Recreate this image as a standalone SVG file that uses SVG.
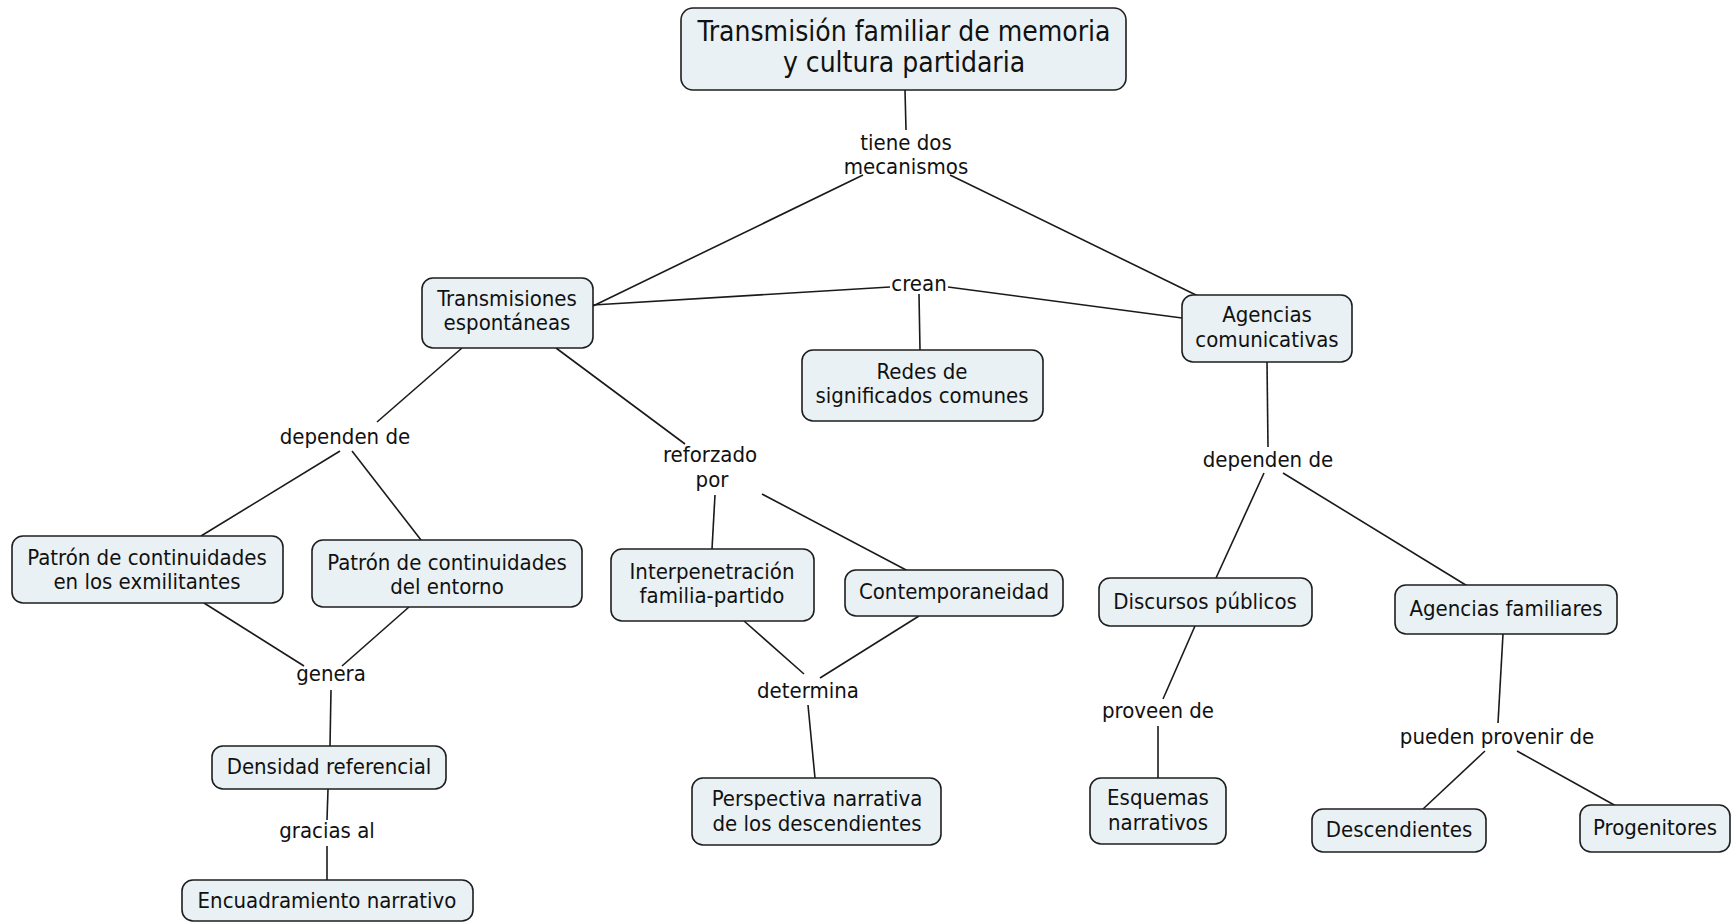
<svg xmlns="http://www.w3.org/2000/svg" width="1732" height="922" viewBox="0 0 1732 922">
  <style>
    .bg { fill: #ffffff; }
    .node rect { fill: #e9f1f4; stroke: #1e1e1e; stroke-width: 1.6; }
    .node text, .label text { font-family: "DejaVu Sans Condensed", "DejaVu Sans", sans-serif; font-stretch: condensed; font-size: 22px; fill: #111111; text-anchor: middle; }
    #title text { font-size: 28px; }
    .edges line { stroke: #1a1a1a; stroke-width: 1.6; fill: none; }
  </style>
  <rect class="bg" x="0" y="0" width="1732" height="922"/>

  <!-- connectors -->
  <g class="edges">
    <line x1="905" y1="90" x2="906" y2="130"/>
    <line x1="863" y1="175" x2="593" y2="306"/>
    <line x1="950" y1="175" x2="1198" y2="296"/>
    <line x1="593" y1="305" x2="890" y2="287"/>
    <line x1="948" y1="287" x2="1182" y2="318"/>
    <line x1="919" y1="294" x2="920" y2="350"/>
    <line x1="1267" y1="362" x2="1268" y2="447"/>
    <line x1="1264" y1="473" x2="1216" y2="578"/>
    <line x1="1283" y1="473" x2="1469" y2="587"/>
    <line x1="1195" y1="626" x2="1163" y2="699"/>
    <line x1="1158" y1="726" x2="1158" y2="778"/>
    <line x1="1503" y1="634" x2="1498" y2="723"/>
    <line x1="1485" y1="751" x2="1423" y2="809"/>
    <line x1="1517" y1="751" x2="1616" y2="806"/>
    <line x1="462" y1="348" x2="377" y2="422"/>
    <line x1="340" y1="451" x2="201" y2="536"/>
    <line x1="352" y1="451" x2="421" y2="540"/>
    <line x1="204" y1="603" x2="304" y2="666"/>
    <line x1="409" y1="607" x2="342" y2="666"/>
    <line x1="331" y1="690" x2="330" y2="746"/>
    <line x1="328" y1="789" x2="327" y2="820"/>
    <line x1="327" y1="846" x2="327" y2="880"/>
    <line x1="556" y1="348" x2="685" y2="444"/>
    <line x1="715" y1="495" x2="712" y2="549"/>
    <line x1="762" y1="494" x2="908" y2="571"/>
    <line x1="744" y1="621" x2="804" y2="674"/>
    <line x1="919" y1="616" x2="820" y2="678"/>
    <line x1="808" y1="705" x2="815" y2="778"/>
  </g>

  <!-- linking phrases -->
  <g class="label" id="lbl-tiene"><text x="906" y="150">tiene dos</text><text x="906" y="174">mecanismos</text></g>
  <g class="label" id="lbl-crean"><text x="919" y="291">crean</text></g>
  <g class="label" id="lbl-dependen-ag"><text x="1268" y="467">dependen de</text></g>
  <g class="label" id="lbl-proveen"><text x="1158" y="718">proveen de</text></g>
  <g class="label" id="lbl-pueden"><text x="1497" y="744">pueden provenir de</text></g>
  <g class="label" id="lbl-dependen-tr"><text x="345" y="444">dependen de</text></g>
  <g class="label" id="lbl-genera"><text x="331" y="681">genera</text></g>
  <g class="label" id="lbl-gracias"><text x="327" y="838">gracias al</text></g>
  <g class="label" id="lbl-reforzado"><text x="710" y="462">reforzado</text><text x="712" y="487">por</text></g>
  <g class="label" id="lbl-determina"><text x="808" y="698">determina</text></g>

  <!-- concepts -->
  <g class="node" id="title">
    <rect x="681" y="8" width="445" height="82" rx="12"/>
    <text x="904" y="41">Transmisión familiar de memoria</text>
    <text x="904" y="72">y cultura partidaria</text>
  </g>
  <g class="node" id="transmisiones">
    <rect x="422" y="278" width="171" height="70" rx="11"/>
    <text x="507" y="306">Transmisiones</text>
    <text x="507" y="330">espontáneas</text>
  </g>
  <g class="node" id="redes">
    <rect x="802" y="350" width="241" height="71" rx="11"/>
    <text x="922" y="379">Redes de</text>
    <text x="922" y="403">significados comunes</text>
  </g>
  <g class="node" id="agencias-com">
    <rect x="1182" y="295" width="170" height="67" rx="11"/>
    <text x="1267" y="322">Agencias</text>
    <text x="1267" y="347">comunicativas</text>
  </g>
  <g class="node" id="discursos">
    <rect x="1099" y="578" width="213" height="48" rx="11"/>
    <text x="1205" y="609">Discursos públicos</text>
  </g>
  <g class="node" id="esquemas">
    <rect x="1090" y="778" width="136" height="66" rx="11"/>
    <text x="1158" y="805">Esquemas</text>
    <text x="1158" y="830">narrativos</text>
  </g>
  <g class="node" id="agencias-fam">
    <rect x="1395" y="585" width="222" height="49" rx="11"/>
    <text x="1506" y="616">Agencias familiares</text>
  </g>
  <g class="node" id="descendientes">
    <rect x="1312" y="809" width="174" height="43" rx="11"/>
    <text x="1399" y="837">Descendientes</text>
  </g>
  <g class="node" id="progenitores">
    <rect x="1580" y="805" width="150" height="47" rx="11"/>
    <text x="1655" y="835">Progenitores</text>
  </g>
  <g class="node" id="patron-exmilitantes">
    <rect x="12" y="536" width="271" height="67" rx="11"/>
    <text x="147" y="565">Patrón de continuidades</text>
    <text x="147" y="589">en los exmilitantes</text>
  </g>
  <g class="node" id="patron-entorno">
    <rect x="312" y="540" width="270" height="67" rx="11"/>
    <text x="447" y="570">Patrón de continuidades</text>
    <text x="447" y="594">del entorno</text>
  </g>
  <g class="node" id="densidad">
    <rect x="212" y="746" width="234" height="43" rx="11"/>
    <text x="329" y="774">Densidad referencial</text>
  </g>
  <g class="node" id="encuadramiento">
    <rect x="182" y="880" width="291" height="41" rx="11"/>
    <text x="327" y="908">Encuadramiento narrativo</text>
  </g>
  <g class="node" id="interpenetracion">
    <rect x="611" y="549" width="203" height="72" rx="11"/>
    <text x="712" y="579">Interpenetración</text>
    <text x="712" y="603">familia-partido</text>
  </g>
  <g class="node" id="contemporaneidad">
    <rect x="845" y="570" width="218" height="46" rx="11"/>
    <text x="954" y="599">Contemporaneidad</text>
  </g>
  <g class="node" id="perspectiva">
    <rect x="692" y="778" width="249" height="67" rx="11"/>
    <text x="817" y="806">Perspectiva narrativa</text>
    <text x="817" y="831">de los descendientes</text>
  </g>
</svg>
